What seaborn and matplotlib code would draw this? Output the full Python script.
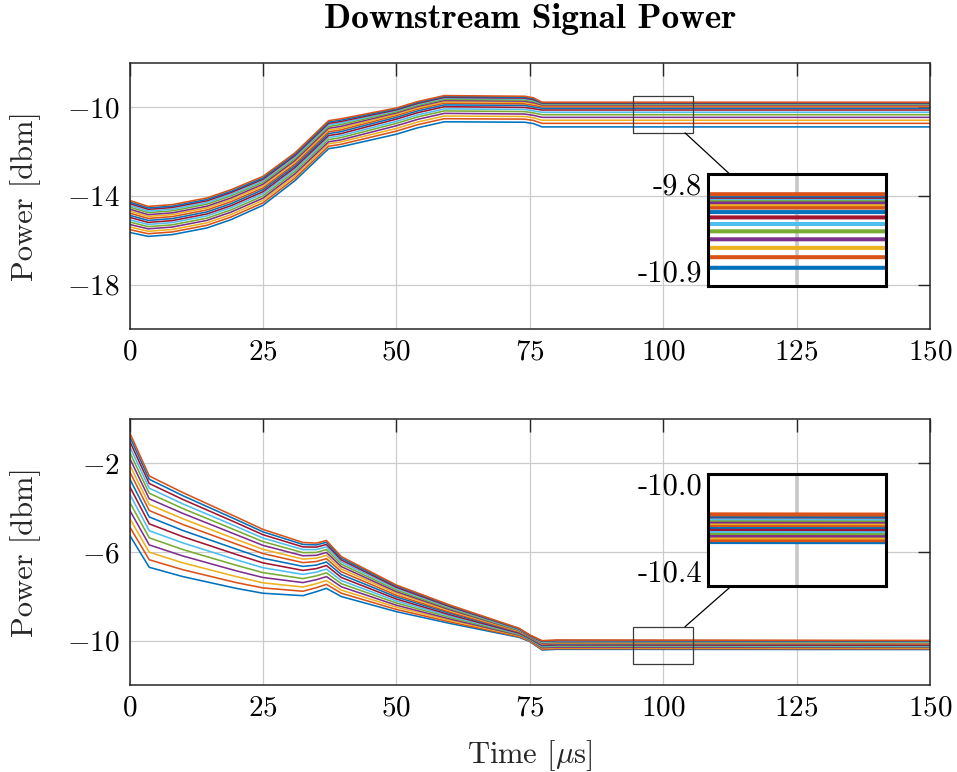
import numpy as np
import pandas as pd
import matplotlib
matplotlib.use("Agg")
import matplotlib.pyplot as plt
from matplotlib.patches import Rectangle, ConnectionPatch
import seaborn as sns

# ---------------------------------------------------------------- data
# MATLAB default colour order, cycled over the 16 WDM channels
line_colors = ["#0072BD", "#D95319", "#EDB120", "#7E2F8E", "#77AC30", "#4DBEEE", "#A2142F"]
channels = [f"Ch {i}" for i in range(1, 17)]

x_ticks = [0, 25, 50, 75, 100, 125, 150]
y_ticks_a = [-18, -14, -10]
y_ticks_b = [-10, -6, -2]

# upper panel: sample times [us] and channel powers [dBm] (rows = channel 1..16)
time_a = [0, 3.5, 8, 14.5, 19, 25, 31, 37.3, 39.5, 50, 54, 59, 74, 75.7, 77.3, 150]
power_a = [
    [-15.65, -15.83, -15.75, -15.45, -15.08, -14.43, -13.32, -11.88, -11.80, -11.23, -10.94, -10.67, -10.69, -10.75, -10.90, -10.90],
    [-15.52, -15.71, -15.63, -15.33, -14.96, -14.32, -13.21, -11.77, -11.69, -11.09, -10.80, -10.53, -10.55, -10.61, -10.74, -10.74],
    [-15.40, -15.60, -15.52, -15.22, -14.85, -14.21, -13.11, -11.66, -11.58, -10.97, -10.68, -10.41, -10.43, -10.49, -10.60, -10.60],
    [-15.29, -15.49, -15.41, -15.11, -14.74, -14.11, -13.01, -11.57, -11.49, -10.85, -10.56, -10.29, -10.32, -10.38, -10.47, -10.47],
    [-15.18, -15.39, -15.31, -15.01, -14.64, -14.01, -12.91, -11.47, -11.39, -10.74, -10.45, -10.18, -10.21, -10.27, -10.35, -10.35],
    [-15.08, -15.29, -15.21, -14.91, -14.54, -13.91, -12.82, -11.38, -11.30, -10.65, -10.36, -10.09, -10.11, -10.18, -10.24, -10.24],
    [-14.97, -15.20, -15.12, -14.82, -14.45, -13.82, -12.73, -11.29, -11.21, -10.55, -10.26, -9.99, -10.02, -10.08, -10.14, -10.14],
    [-14.88, -15.11, -15.03, -14.73, -14.36, -13.73, -12.65, -11.20, -11.12, -10.47, -10.18, -9.91, -9.93, -10.00, -10.06, -10.06],
    [-14.78, -15.02, -14.94, -14.64, -14.27, -13.65, -12.57, -11.12, -11.04, -10.39, -10.10, -9.83, -9.86, -9.93, -9.99, -9.99],
    [-14.69, -14.93, -14.85, -14.55, -14.18, -13.56, -12.48, -11.04, -10.96, -10.33, -10.04, -9.77, -9.79, -9.86, -9.94, -9.94],
    [-14.60, -14.85, -14.77, -14.47, -14.10, -13.48, -12.41, -10.96, -10.88, -10.27, -9.98, -9.71, -9.74, -9.81, -9.91, -9.91],
    [-14.51, -14.76, -14.68, -14.38, -14.01, -13.40, -12.33, -10.88, -10.80, -10.22, -9.93, -9.66, -9.69, -9.75, -9.87, -9.87],
    [-14.43, -14.69, -14.61, -14.31, -13.94, -13.33, -12.26, -10.81, -10.73, -10.17, -9.88, -9.61, -9.64, -9.71, -9.85, -9.85],
    [-14.35, -14.61, -14.53, -14.23, -13.86, -13.26, -12.19, -10.74, -10.66, -10.13, -9.84, -9.57, -9.60, -9.67, -9.83, -9.83],
    [-14.28, -14.55, -14.47, -14.17, -13.80, -13.20, -12.13, -10.68, -10.60, -10.09, -9.80, -9.53, -9.56, -9.63, -9.81, -9.81],
    [-14.21, -14.48, -14.40, -14.10, -13.73, -13.13, -12.07, -10.62, -10.54, -10.05, -9.76, -9.49, -9.52, -9.59, -9.79, -9.79],
]

# lower panel
time_b = [0, 3.7, 10, 20, 25, 32.5, 35, 36.9, 39.7, 50, 60, 73, 75, 77.3, 80, 150]
power_b = [
    [-5.23, -6.69, -7.11, -7.64, -7.86, -7.97, -7.79, -7.64, -8.01, -8.69, -9.22, -9.85, -10.04, -10.42, -10.39, -10.40],
    [-4.85, -6.35, -6.80, -7.38, -7.62, -7.77, -7.61, -7.46, -7.86, -8.59, -9.15, -9.82, -10.02, -10.39, -10.36, -10.37],
    [-4.47, -6.01, -6.49, -7.11, -7.39, -7.58, -7.43, -7.29, -7.72, -8.49, -9.08, -9.78, -9.99, -10.35, -10.32, -10.33],
    [-4.10, -5.68, -6.18, -6.85, -7.15, -7.38, -7.25, -7.11, -7.57, -8.40, -9.02, -9.75, -9.97, -10.32, -10.29, -10.30],
    [-3.74, -5.36, -5.89, -6.60, -6.93, -7.20, -7.08, -6.94, -7.43, -8.30, -8.95, -9.72, -9.94, -10.28, -10.25, -10.27],
    [-3.37, -5.04, -5.59, -6.35, -6.71, -7.01, -6.91, -6.77, -7.29, -8.21, -8.89, -9.69, -9.92, -10.25, -10.22, -10.24],
    [-3.03, -4.73, -5.31, -6.11, -6.49, -6.83, -6.75, -6.61, -7.15, -8.12, -8.83, -9.66, -9.90, -10.22, -10.19, -10.21],
    [-2.68, -4.42, -5.03, -5.87, -6.28, -6.65, -6.59, -6.45, -7.02, -8.03, -8.76, -9.62, -9.88, -10.19, -10.16, -10.17],
    [-2.36, -4.13, -4.76, -5.64, -6.07, -6.48, -6.43, -6.30, -6.89, -7.95, -8.71, -9.60, -9.85, -10.16, -10.13, -10.15],
    [-2.05, -3.86, -4.50, -5.43, -5.88, -6.32, -6.28, -6.15, -6.77, -7.86, -8.65, -9.57, -9.83, -10.13, -10.10, -10.12],
    [-1.75, -3.60, -4.26, -5.22, -5.70, -6.17, -6.15, -6.02, -6.66, -7.79, -8.60, -9.54, -9.82, -10.11, -10.08, -10.09],
    [-1.48, -3.35, -4.04, -5.03, -5.53, -6.03, -6.02, -5.89, -6.55, -7.72, -8.55, -9.52, -9.80, -10.08, -10.05, -10.07],
    [-1.22, -3.12, -3.83, -4.85, -5.37, -5.89, -5.89, -5.77, -6.45, -7.65, -8.50, -9.50, -9.78, -10.06, -10.03, -10.05],
    [-0.98, -2.91, -3.63, -4.68, -5.22, -5.77, -5.78, -5.66, -6.36, -7.59, -8.46, -9.47, -9.77, -10.03, -10.00, -10.02],
    [-0.77, -2.72, -3.46, -4.54, -5.09, -5.66, -5.68, -5.56, -6.28, -7.53, -8.42, -9.46, -9.75, -10.02, -9.99, -10.01],
    [-0.60, -2.57, -3.32, -4.42, -4.98, -5.57, -5.60, -5.48, -6.21, -7.49, -8.39, -9.44, -9.74, -10.00, -9.97, -9.99],
]

# ---------------------------------------------------------------- style
sns.set_theme(style="white")
plt.rcParams.update({
    "font.family": ["cmr10"],
    "mathtext.fontset": "cm",
    "axes.formatter.use_mathtext": True,
    "axes.unicode_minus": True,
    "text.color": "black",
    "xtick.color": "#262626",
    "ytick.color": "#262626",
    "xtick.labelcolor": "black",
    "ytick.labelcolor": "black",
})

palette = [line_colors[i % len(line_colors)] for i in range(len(channels))]


def long_frame(times, rows):
    recs = [(ch, t, v) for ch, row in zip(channels, rows) for t, v in zip(times, row)]
    return pd.DataFrame(recs, columns=["channel", "time", "power"])


def draw_lines(ax, df, lw):
    sns.lineplot(data=df, x="time", y="power", hue="channel", hue_order=channels,
                 palette=palette, estimator=None, sort=False, legend=False,
                 linewidth=lw, ax=ax)
    ax.set_xlabel("")
    ax.set_ylabel("")


def style_main(ax, ylim, yticks):
    ax.set_xlim(0, 150)
    ax.set_ylim(*ylim)
    ax.set_xticks(x_ticks)
    ax.set_yticks(yticks)
    ax.grid(True, color="#cccccc", linewidth=0.9)
    ax.set_axisbelow(True)
    ax.tick_params(direction="in", length=9, width=1.0, top=True, right=True,
                   labelsize=21, pad=7)
    for sp in ax.spines.values():
        sp.set_color("#262626")
        sp.set_linewidth(1.1)
    ax.set_ylabel("Power [dbm]", fontsize=22)
    ax.yaxis.set_label_coords(-0.11, 0.5)


W, H = 957, 772
fig = plt.figure(figsize=(W / 100, H / 100), dpi=100)
ax_a = fig.add_axes([129.5 / W, 1 - 329 / H, 800.5 / W, 266.5 / H])
ax_b = fig.add_axes([129.5 / W, 1 - 685 / H, 800.5 / W, 266 / H])

df_a = long_frame(time_a, power_a)
df_b = long_frame(time_b, power_b)

draw_lines(ax_a, df_a, 1.15)
draw_lines(ax_b, df_b, 1.15)
style_main(ax_a, (-20, -8), y_ticks_a)
style_main(ax_b, (-12, 0), y_ticks_b)
ax_b.set_xlabel("Time [$\\mu$s]", fontsize=22)
ax_b.xaxis.set_label_coords(0.5, -0.2)

fig.text(530 / W, 1 - 28 / H, "Downstream Signal Power", ha="center", va="baseline",
         fontfamily="cmb10", fontsize=25.5)


def magnifier(ax, df, times, rows, win_x, win_y, inset_box, anchor_main, anchor_inset):
    # outline of the magnified window on the main axes
    ax.add_patch(Rectangle((win_x[0], win_y[0]), win_x[1] - win_x[0], win_y[1] - win_y[0],
                           fill=False, ec="#3a3a3a", lw=0.9, zorder=5))
    ins = fig.add_axes(inset_box)
    draw_lines(ins, df, 2.9)
    ins.set_xlim(*win_x)
    ins.set_ylim(*win_y)
    ins.set_xticks([100])
    ins.set_yticks([-10])
    ins.tick_params(length=0, labelbottom=False, labelleft=False)
    ins.grid(True, color="#c8c8c8", linewidth=2.6)
    ins.set_axisbelow(True)
    for sp in ins.spines.values():
        sp.set_color("black")
        sp.set_linewidth(2.2)
    # range of the channel powers inside the window
    xs = np.linspace(win_x[0], win_x[1], 50)
    vals = np.array([np.interp(xs, times, row) for row in rows])
    ins.text(-0.032, 0.89, f"{vals.max():.1f}", transform=ins.transAxes,
             ha="right", va="center", fontsize=22)
    ins.text(-0.032, 0.105, f"{vals.min():.1f}", transform=ins.transAxes,
             ha="right", va="center", fontsize=22)
    con = ConnectionPatch(xyA=anchor_main, coordsA="data", axesA=ax,
                          xyB=anchor_inset, coordsB="axes fraction", axesB=ins,
                          color="black", lw=0.9)
    fig.add_artist(con)


magnifier(ax_a, df_a, time_a, power_a, (94.4, 105.6), (-11.17, -9.49),
          [707.7 / W, 1 - 285.7 / H, 178 / W, 111.4 / H], (104.1, -11.17), (0.125, 1.0))
magnifier(ax_b, df_b, time_b, power_b, (94.4, 105.6), (-11.05, -9.37),
          [707.7 / W, 1 - 585.7 / H, 178 / W, 111.4 / H], (104.1, -9.37), (0.135, 0.0))

fig.savefig("out.png", dpi=100)
